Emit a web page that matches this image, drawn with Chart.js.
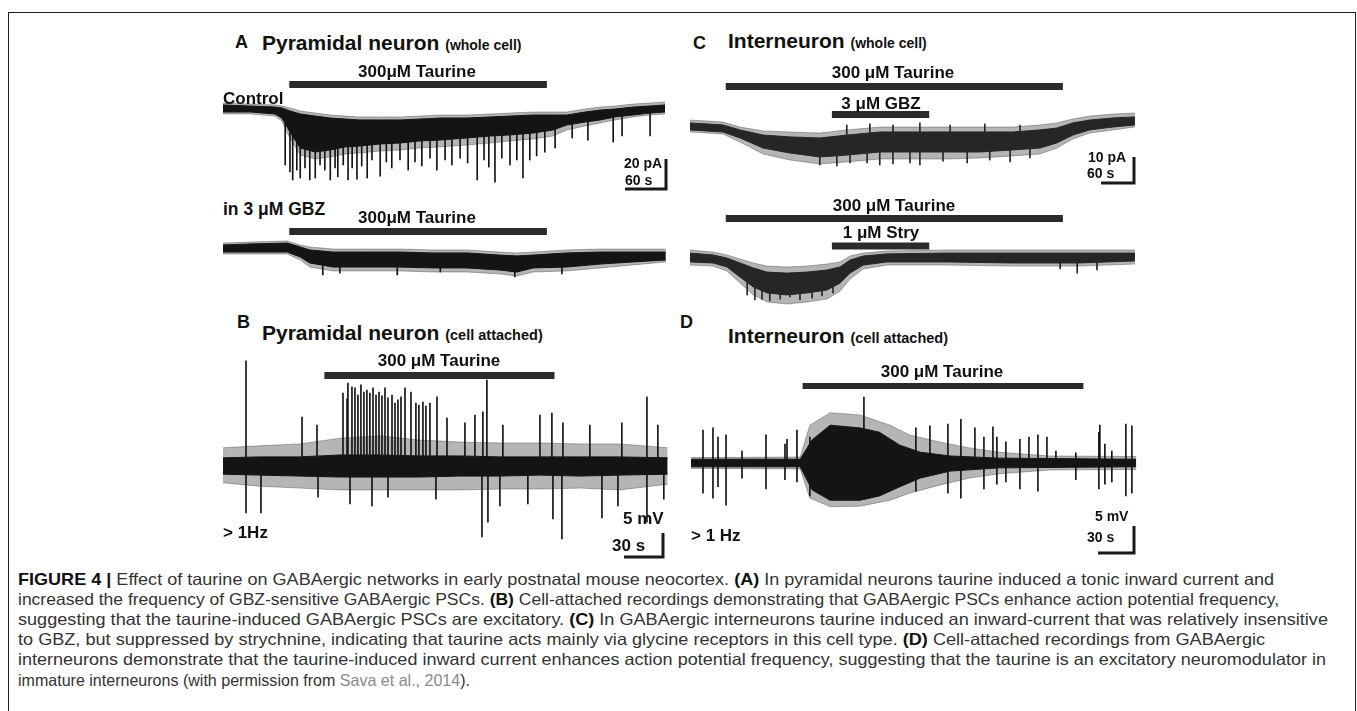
<!DOCTYPE html>
<html lang="en">
<head>
<meta charset="utf-8">
<title>Figure 4 - taurine on GABAergic networks</title>
<script src="https://cdn.jsdelivr.net/npm/chart.js@4.4.1/dist/chart.umd.min.js"></script>
<style>
  html, body { margin: 0; padding: 0; background: #fff; }
  body { position: relative; width: 1357px; height: 711px; overflow: hidden;
         font-family: "Liberation Sans", Arial, Helvetica, sans-serif; color: #111; }
  .frame { position: absolute; left: 8px; top: 12px; width: 1348px; height: 740px;
           border: 1.5px solid #1f1f1f; box-sizing: border-box; }
  canvas { position: absolute; }
  .t { position: absolute; font-weight: bold; white-space: nowrap; line-height: 1;
       transform: translateY(-50%); }
  .t.c { transform: translate(-50%, -50%); }
  .t small { font-size: 14px; }
  .cap { position: absolute; left: 18px; font-size: 16.5px; line-height: 1; color: #333;
         white-space: nowrap; transform-origin: 0 50%; transform: translateY(-50%); }
  .cap b { color: #111; }
  .cap .ref { color: #8a8a8a; }
</style>
</head>
<body>
<div class="frame"></div>

<canvas id="cA1"></canvas>
<canvas id="cA2"></canvas>
<canvas id="cC1"></canvas>
<canvas id="cC2"></canvas>
<canvas id="cB"></canvas>
<canvas id="cD"></canvas>

<!-- panel A -->
<div class="t" style="left:235px;top:42px;font-size:18px">A</div>
<div class="t" style="left:262px;top:41.5px;font-size:21px">Pyramidal neuron <small>(whole cell)</small></div>
<div class="t c" style="left:417px;top:71px;font-size:17px">300μM Taurine</div>
<div class="t" style="left:223px;top:97.5px;font-size:17px">Control</div>
<div class="t" style="left:624px;top:163px;font-size:14px">20 pA</div>
<div class="t" style="left:625px;top:180px;font-size:14px">60 s</div>
<div class="t" style="left:223px;top:210px;font-size:17.5px">in 3 μM GBZ</div>
<div class="t c" style="left:417px;top:216.5px;font-size:17px">300μM Taurine</div>

<!-- panel C -->
<div class="t" style="left:693px;top:43px;font-size:18px">C</div>
<div class="t" style="left:728px;top:40px;font-size:21px">Interneuron <small>(whole cell)</small></div>
<div class="t c" style="left:893px;top:71.5px;font-size:17px">300 μM Taurine</div>
<div class="t c" style="left:881px;top:102.5px;font-size:17px">3 μM GBZ</div>
<div class="t" style="left:1088px;top:157px;font-size:14px">10 pA</div>
<div class="t" style="left:1087px;top:173px;font-size:14px">60 s</div>
<div class="t c" style="left:894px;top:205px;font-size:17px">300 μM Taurine</div>
<div class="t c" style="left:881px;top:232px;font-size:17px">1 μM Stry</div>

<!-- panel B -->
<div class="t" style="left:237px;top:321.5px;font-size:18px">B</div>
<div class="t" style="left:262px;top:332px;font-size:21px">Pyramidal neuron <small style="font-size:14.5px">(cell attached)</small></div>
<div class="t c" style="left:439px;top:360px;font-size:17px">300 μM Taurine</div>
<div class="t" style="left:223px;top:531.5px;font-size:17px">&gt; 1Hz</div>
<div class="t" style="left:623px;top:518px;font-size:17px">5 mV</div>
<div class="t" style="left:612px;top:544.5px;font-size:17px">30 s</div>

<!-- panel D -->
<div class="t" style="left:680px;top:321.5px;font-size:18px">D</div>
<div class="t" style="left:728px;top:335px;font-size:21px">Interneuron <small style="font-size:14.5px">(cell attached)</small></div>
<div class="t c" style="left:942px;top:371px;font-size:17px">300 μM Taurine</div>
<div class="t" style="left:691px;top:535px;font-size:17px">&gt; 1 Hz</div>
<div class="t" style="left:1095px;top:515.5px;font-size:14px">5 mV</div>
<div class="t" style="left:1087px;top:536.5px;font-size:14px">30 s</div>

<!-- caption, one div per printed line; data-r = right edge of the printed line -->
<div class="cap" data-r="1274" style="top:579px"><b>FIGURE 4 |</b> Effect of taurine on GABAergic networks in early postnatal mouse neocortex. <b>(A)</b> In pyramidal neurons taurine induced a tonic inward current and</div>
<div class="cap" data-r="1279" style="top:599px">increased the frequency of GBZ-sensitive GABAergic PSCs. <b>(B)</b> Cell-attached recordings demonstrating that GABAergic PSCs enhance action potential frequency,</div>
<div class="cap" data-r="1328" style="top:619px">suggesting that the taurine-induced GABAergic PSCs are excitatory. <b>(C)</b> In GABAergic interneurons taurine induced an inward-current that was relatively insensitive</div>
<div class="cap" data-r="1265" style="top:639px">to GBZ, but suppressed by strychnine, indicating that taurine acts mainly via glycine receptors in this cell type. <b>(D)</b> Cell-attached recordings from GABAergic</div>
<div class="cap" data-r="1326" style="top:659px">interneurons demonstrate that the taurine-induced inward current enhances action potential frequency, suggesting that the taurine is an excitatory neuromodulator in</div>
<div class="cap" data-r="470" style="top:680px">immature interneurons (with permission from <span class="ref">Sava et al., 2014</span>).</div>

<script>
// ---------- data ----------
// whole-cell traces: time (s), holding current (pA)
// up/lo = dense part of the noise band, *h = outer fringe of the noise

// A, control
const tA    = [0, 40, 76, 86, 98, 113, 135, 157, 179, 200, 230, 259, 288, 318, 357, 391, 420, 454, 483, 503, 530, 552, 574, 600, 625, 647];
const upA   = [2.7, 2.0, 1.3, 0.7, -1.3, -3.3, -4.7, -6.0, -6.7, -7.3, -7.3, -7.3, -6.7, -6.0, -6.0, -5.3, -4.7, -4.0, -4.0, -4.0, -2.0, -0.7, 0, 1.3, 2.0, 2.7];
const loA   = [-2.0, -2.0, -3.3, -6.0, -15.3, -26.0, -28.7, -27.3, -25.3, -24.7, -23.3, -22.7, -21.3, -20.7, -19.3, -18.0, -17.3, -16.0, -14.0, -10.7, -8.7, -7.3, -5.3, -4.0, -2.7, -2.0];
const upAh  = [4.0, 3.3, 2.7, 2.0, 0.7, -1.3, -2.7, -4.0, -4.7, -5.3, -5.3, -5.3, -4.7, -4.0, -4.0, -3.3, -2.7, -2.0, -2.0, -2.0, 0, 1.3, 2.0, 3.3, 4.0, 4.7];
const loAh  = [-3.3, -3.3, -4.7, -8.0, -19.3, -30.7, -33.3, -32.0, -30.0, -29.3, -28.0, -27.3, -26.0, -25.3, -24.0, -22.7, -21.3, -20.0, -18.0, -14.0, -11.3, -9.3, -7.3, -5.3, -4.0, -3.3];
// A, control: PSCs (time, peak, start)
const pscAT   = [91, 98, 102, 108, 113, 120, 127, 135, 142, 149, 157, 164, 168, 176, 183, 189, 196, 203, 211, 218, 230, 239, 247, 259, 271,
                 281, 291, 303, 313, 325, 335, 347, 358, 372, 382, 389, 398, 408, 420, 430, 439, 449, 459, 471, 486, 511, 534, 571, 584, 625];
const pscAPk  = [-37.3, -42.0, -47.3, -40.7, -46.0, -39.3, -47.3, -46.0, -37.3, -40.7, -47.3, -39.3, -45.3, -37.3, -47.3, -39.3, -46.7, -38.0, -46.0, -34.0, -44.7, -35.3, -39.3, -34.0, -40.7,
                 -35.3, -38.0, -32.7, -40.7, -34.0, -37.3, -32.7, -36.0, -47.3, -34.0, -38.7, -48.7, -32.7, -37.3, -34.0, -46.0, -34.0, -31.3, -28.7, -26.0, -19.3, -20.7, -22.0, -18.0, -18.0];
const pscABase = [-8, -8, -8, -8, -8, -8, -8, -8, -8, -8, -8, -8, -8, -8, -8, -8, -8, -8, -8, -8, -8, -8, -8, -8, -8,
                  -8, -8, -8, -8, -8, -8, -8, -8, -8, -8, -8, -8, -8, -8, -8, -8, -8, -8, -8, -8, -6, -5, -3, -2, -1];

// A, in 3 uM GBZ
const tA2   = [0, 40, 94, 113, 127, 161, 211, 259, 307, 357, 405, 430, 454, 503, 552, 600, 648];
const upA2  = [2.0, 2.7, 3.3, 0.7, -1.3, -2.7, -2.7, -2.7, -3.3, -3.3, -4.7, -5.3, -4.7, -3.3, -2.7, -2.7, -2.7];
const loA2  = [-2.7, -2.7, -2.7, -6.0, -10.0, -12.7, -12.7, -12.7, -13.3, -13.3, -14.7, -16.0, -13.3, -12.7, -10.7, -9.3, -8.0];
const upA2h = [3.3, 4.0, 4.7, 2.0, 0.7, -0.7, -0.7, -0.7, -1.3, -1.3, -2.7, -3.3, -2.7, -1.3, -0.7, -0.7, -0.7];
const loA2h = [-4.0, -4.0, -4.0, -8.0, -12.7, -15.3, -15.3, -15.3, -16.0, -16.0, -17.3, -18.7, -16.0, -15.3, -13.3, -11.3, -9.3];
const pscA2T    = [146, 171, 255, 318, 427, 496];
const pscA2Pk   = [-18.0, -16.7, -18.0, -16.0, -19.3, -17.3];
const pscA2Base = [-8, -8, -8, -8, -8, -8];

// C, taurine + GBZ
const tC    = [0, 60, 91, 133, 182, 236, 285, 345, 405, 467, 527, 587, 636, 667, 696, 727, 769, 809];
const upC   = [1.2, 0.4, -1.5, -3.5, -4.2, -4.6, -3.5, -2.3, -2.3, -2.3, -2.3, -2.3, -1.5, -0.8, 1.2, 2.3, 3.1, 3.5];
const loC   = [-1.5, -2.3, -4.6, -8.5, -10.4, -11.9, -11.2, -10.0, -10.0, -10.0, -10.0, -9.2, -8.5, -6.5, -3.5, -1.5, -0.4, 0.4];
const upCh  = [2.3, 1.5, -0.4, -1.9, -2.3, -2.7, -1.5, -0.4, -0.4, -0.4, -0.4, -0.4, 0.4, 1.2, 2.7, 3.8, 4.6, 5.0];
const loCh  = [-2.3, -3.1, -6.2, -10.8, -13.1, -14.6, -13.8, -12.7, -12.7, -12.7, -12.3, -11.5, -10.8, -8.5, -5.0, -2.7, -1.5, -0.4];
const pscCT    = [236, 267, 291, 322, 345, 369, 400, 418, 460, 504, 545, 582, 618, 285, 327, 369, 418, 473, 536, 600];
const pscCPk   = [-15.0, -15.4, -14.2, -14.2, -15.0, -14.6, -14.2, -15.0, -13.5, -14.2, -13.1, -13.8, -12.3, 0.4, 0.8, 0.4, 1.2, 0.4, 0.8, 0.4];
const pscCBase = [-8, -8, -8, -8, -8, -8, -8, -8, -8, -8, -8, -8, -8, -5, -5, -5, -5, -5, -5, -5];

// C, taurine + strychnine
const tC2   = [0, 42, 67, 91, 115, 140, 176, 213, 249, 273, 291, 315, 358, 467, 587, 709, 809];
const upC2  = [1.5, 0.8, -0.4, -2.3, -4.2, -5.8, -6.2, -5.8, -5.0, -3.8, -1.2, 0.4, 1.2, 1.5, 1.5, 1.5, 1.5];
const loC2  = [-1.9, -2.3, -3.8, -7.7, -11.5, -13.8, -14.6, -13.8, -12.7, -10.0, -6.2, -3.1, -1.9, -1.9, -2.3, -2.3, -1.5];
const upC2h = [2.7, 1.9, 0.8, -0.8, -2.3, -3.5, -3.8, -3.5, -2.7, -1.9, 0.4, 1.5, 2.3, 2.7, 2.7, 2.7, 2.7];
const loC2h = [-3.1, -3.5, -5.4, -10.0, -14.6, -17.3, -18.1, -17.3, -16.2, -13.1, -8.5, -4.6, -3.1, -3.1, -3.5, -3.5, -2.7];
const pscC2T    = [104, 118, 131, 145, 164, 182, 200, 222, 240, 260, 673, 704, 740];
const pscC2Pk   = [-14.6, -16.5, -16.2, -16.9, -16.2, -15.4, -16.5, -15.8, -15.0, -13.8, -4.6, -6.2, -5.0];
const pscC2Base = [-8, -8, -8, -8, -8, -8, -8, -8, -8, -8, -1, -1, -1];

// cell-attached traces: time (s), potential (mV)
// B, pyramidal neuron
const tB      = [0, 28, 59, 90, 121, 151, 182, 213, 244, 275, 305, 342];
const upB     = [1.7, 1.9, 1.9, 2.3, 2.3, 2.1, 2.1, 1.9, 1.9, 1.9, 1.9, 1.7];
const loB     = [-1.7, -1.9, -2.1, -2.3, -2.3, -2.3, -2.1, -2.1, -1.9, -2.1, -1.9, -1.7];
const upBh    = [3.8, 4.2, 4.6, 5.8, 6.3, 5.4, 5.0, 4.8, 4.8, 4.6, 4.6, 3.8];
const loBh    = [-3.5, -4.2, -4.6, -5.0, -5.0, -5.0, -5.0, -4.8, -4.8, -4.6, -5.0, -3.8];
const apBT = [17.7, 60.8, 72.3, 92.3, 95.4, 96.1, 99.2, 101.5, 103.8, 106.1, 108.4, 110.7, 113.0, 115.4, 117.7, 120.0, 122.3, 124.6, 126.9, 130.0, 132.3, 134.6,
              136.9, 140.0, 144.6, 148.4, 150.7, 153.8, 156.1, 159.2, 164.6, 172.3, 186.1, 193.8, 199.9, 203.0, 215.3, 243.8, 253.0, 261.5, 282.2, 306.8, 326.1, 334.5,
              17.7, 29.2, 73.1, 97.7, 114.6, 126.9, 163.8, 199.2, 203.8, 213.0, 234.5, 253.8, 260.7, 291.5, 303.8, 326.1, 339.1];
const apBV = [21.9, 10.2, 8.5, 15.2, 14.0, 17.3, 16.5, 16.3, 14.8, 16.9, 15.4, 15.8, 15.2, 16.3, 14.8, 15.4, 14.6, 16.3, 14.2, 14.8, 13.1, 13.8,
              14.4, 16.3, 15.4, 13.1, 12.7, 13.3, 12.5, 13.1, 14.4, 10.0, 9.0, 10.6, 11.3, 17.9, 8.5, 10.6, 11.0, 9.0, 8.5, 9.0, 14.4, 8.5,
              -9.8, -9.8, -6.5, -7.9, -8.3, -6.5, -6.9, -14.8, -11.7, -8.3, -7.9, -11.0, -15.2, -10.8, -8.3, -11.7, -6.9];

// D, interneuron
const tD      = [0, 91, 101, 116, 141, 157, 174, 191, 216, 257, 371];
const upD     = [0.7, 0.7, 4.3, 7.0, 6.5, 5.7, 3.3, 2.0, 1.3, 0.9, 0.7];
const loD     = [-0.7, -0.7, -5.0, -6.9, -6.9, -6.1, -4.4, -2.8, -1.5, -0.9, -0.7];
const tDh     = [0, 91, 99, 116, 141, 166, 182, 207, 232, 257, 299, 371];
const upDh    = [1.0, 1.1, 7.0, 9.3, 8.9, 7.0, 5.2, 3.9, 2.8, 2.0, 1.3, 1.2];
const loDh    = [-1.0, -1.1, -6.5, -8.1, -8.0, -6.9, -5.6, -4.1, -2.8, -2.0, -1.3, -1.2];
const apDT = [10.0, 18.3, 22.5, 29.2, 42.5, 62.5, 78.3, 80.0, 88.3, 99.1, 144.1, 187.4, 199.1, 214.1, 224.9, 236.6, 244.1, 251.6, 254.9, 262.4, 274.1, 281.6,
              289.1, 296.6, 304.1, 320.7, 339.9, 340.7, 344.9, 350.7, 362.4, 367.4,
              10.0, 18.3, 22.5, 29.2, 42.5, 62.5, 78.3, 88.3, 99.1, 187.4, 214.1, 224.9, 244.1, 254.9, 262.4, 274.1, 289.1, 320.7, 339.9, 344.9, 350.7, 362.4, 367.4];
const apDV = [6.1, 6.5, 4.8, 5.2, 2.2, 5.2, 3.5, 4.4, 6.1, 4.8, 12.2, 6.5, 6.9, 7.2, 8.1, 6.5, 4.8, 6.7, 4.8, 3.9, 4.4, 4.8,
              5.2, 4.8, 2.2, 1.9, 5.7, 7.0, 3.5, 2.2, 7.2, 6.9,
              -5.6, -6.5, -4.4, -7.8, -2.8, -4.8, -3.1, -3.5, -6.1, -5.2, -5.6, -6.5, -4.8, -3.9, -3.5, -4.8, -5.2, -3.1, -4.8, -3.9, -3.5, -6.1, -5.6];

// drug applications (start, end in s)
const taurineA = [97, 474];
const taurineC = [65, 678];
const gbzC     = [258, 435];
const stryC    = [258, 435];
const taurineB = [78, 255];
const taurineD = [93, 327];

// scale bars [time, amplitude]
const scaleA = [60, 20];   // s, pA
const scaleC = [60, 10];   // s, pA
const scaleB = [30, 5];    // s, mV
const scaleD = [30, 5];    // s, mV

// ---------- layout (page pixels) ----------
// box = canvas [left, top, width, height]; x0/y0 = pixel of t=0 / baseline; kx, ky = pixels per unit
const layA1 = { box: [210, 68, 480, 128], x0: 223, kx: 41 / 60, y0: 109, ky: 1.5 };
const layA2 = { box: [210, 222, 480, 60], x0: 223, kx: 41 / 60, y0: 248, ky: 1.5 };
const layC1 = { box: [680, 74, 470, 118], x0: 690, kx: 33 / 60, y0: 126, ky: 2.6 };
const layC2 = { box: [680, 205, 470, 100], x0: 690, kx: 33 / 60, y0: 257, ky: 2.6 };
const layB  = { box: [210, 352, 480, 215], x0: 223, kx: 1.3, y0: 466, ky: 4.8 };
const layD  = { box: [680, 368, 470, 195], x0: 691, kx: 1.2, y0: 463, ky: 5.4 };

const INK = '#141414';
const INK_C = '#262626';
const HAIR = 'rgba(25,25,25,0.32)';
const BAR = '#2b2b2b';

function pts(xs, ys) {
  return xs.map((x, i) => ({ x, y: ys[i] }));
}

function traceChart(id, lay, parts) {
  const cv = document.getElementById(id);
  const [left, top, w, h] = lay.box;
  Object.assign(cv.style, { left: left + 'px', top: top + 'px', width: w + 'px', height: h + 'px' });
  cv.width = w;
  cv.height = h;
  const ux = px => (px - lay.x0) / lay.kx;
  const uy = py => (lay.y0 - py) / lay.ky;

  const datasets = [];
  (parts.bands || []).forEach(b => {
    datasets.push({ type: 'line', data: pts(b.t, b.up), borderColor: b.color, backgroundColor: b.color,
      borderWidth: 1, pointRadius: 0, fill: '+1', order: b.order });
    datasets.push({ type: 'line', data: pts(b.t, b.lo), borderColor: b.color,
      borderWidth: 1, pointRadius: 0, fill: false, order: b.order });
  });
  if (parts.spikes) {
    const s = parts.spikes;
    datasets.push({ type: 'bar', order: 2, backgroundColor: s.color || INK, barThickness: 1,
      data: s.t.map((x, i) => ({ x, y: [s.base ? s.base[i] : 0, s.peak[i]] })) });
  }
  (parts.drugs || []).forEach(d => {
    const y = uy(d.py);
    datasets.push({ type: 'line', order: 0, data: [{ x: d.on[0], y }, { x: d.on[1], y }],
      borderColor: BAR, borderWidth: d.w, borderCapStyle: 'butt', pointRadius: 0, fill: false });
  });
  if (parts.scale) {
    const sc = parts.scale;
    const cx = ux(sc.corner[0]), cy = uy(sc.corner[1]);
    datasets.push({ type: 'line', order: 0,
      data: [{ x: cx - sc.len[0], y: cy }, { x: cx, y: cy }, { x: cx, y: cy + sc.len[1] }],
      borderColor: '#1a1a1a', borderWidth: 3, borderJoinStyle: 'miter', borderCapStyle: 'butt',
      pointRadius: 0, fill: false });
  }

  return new Chart(cv, {
    type: 'line',
    data: { datasets },
    options: {
      responsive: false,
      animation: false,
      events: [],
      layout: { padding: 0 },
      plugins: { legend: { display: false }, tooltip: { enabled: false } },
      scales: {
        x: { type: 'linear', display: false, offset: false, min: ux(left), max: ux(left + w) },
        y: { type: 'linear', display: false, beginAtZero: false, min: uy(top + h), max: uy(top) }
      }
    }
  });
}

// A: pyramidal neuron, whole cell
traceChart('cA1', layA1, {
  bands: [
    { t: tA, up: upA, lo: loA, color: INK, order: 1 },
    { t: tA, up: upAh, lo: loAh, color: HAIR, order: 3 }
  ],
  spikes: { t: pscAT, peak: pscAPk, base: pscABase },
  drugs: [{ on: taurineA, py: 84.5, w: 7 }],
  scale: { corner: [666, 189], len: scaleA }
});
traceChart('cA2', layA2, {
  bands: [
    { t: tA2, up: upA2, lo: loA2, color: INK, order: 1 },
    { t: tA2, up: upA2h, lo: loA2h, color: HAIR, order: 3 }
  ],
  spikes: { t: pscA2T, peak: pscA2Pk, base: pscA2Base },
  drugs: [{ on: taurineA, py: 231.5, w: 7 }]
});

// C: interneuron, whole cell
traceChart('cC1', layC1, {
  bands: [
    { t: tC, up: upC, lo: loC, color: INK_C, order: 1 },
    { t: tC, up: upCh, lo: loCh, color: HAIR, order: 3 }
  ],
  spikes: { t: pscCT, peak: pscCPk, base: pscCBase, color: INK_C },
  drugs: [{ on: taurineC, py: 86.5, w: 7 }, { on: gbzC, py: 114.5, w: 7 }],
  scale: { corner: [1134, 183], len: scaleC }
});
traceChart('cC2', layC2, {
  bands: [
    { t: tC2, up: upC2, lo: loC2, color: INK_C, order: 1 },
    { t: tC2, up: upC2h, lo: loC2h, color: HAIR, order: 3 }
  ],
  spikes: { t: pscC2T, peak: pscC2Pk, base: pscC2Base, color: INK_C },
  drugs: [{ on: taurineC, py: 218.5, w: 7 }, { on: stryC, py: 246, w: 7 }]
});

// B: pyramidal neuron, cell attached
traceChart('cB', layB, {
  bands: [
    { t: tB, up: upB, lo: loB, color: INK, order: 1 },
    { t: tB, up: upBh, lo: loBh, color: HAIR, order: 3 }
  ],
  spikes: { t: apBT, peak: apBV },
  drugs: [{ on: taurineB, py: 375.5, w: 7 }],
  scale: { corner: [663, 557], len: scaleB }
});

// D: interneuron, cell attached
traceChart('cD', layD, {
  bands: [
    { t: tD, up: upD, lo: loD, color: INK, order: 1 },
    { t: tDh, up: upDh, lo: loDh, color: HAIR, order: 3 }
  ],
  spikes: { t: apDT, peak: apDV },
  drugs: [{ on: taurineD, py: 386, w: 6 }],
  scale: { corner: [1134, 553], len: scaleD }
});

// stretch or squeeze each caption line to its printed width
document.querySelectorAll('.cap').forEach(el => {
  const s = (Number(el.dataset.r) - 18) / el.getBoundingClientRect().width;
  el.style.transform = 'translateY(-50%) scaleX(' + s.toFixed(4) + ')';
});
</script>
</body>
</html>
